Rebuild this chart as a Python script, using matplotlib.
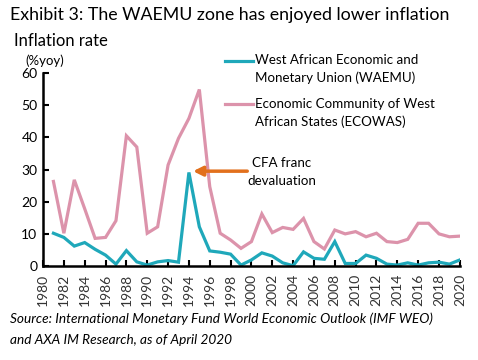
import numpy as np
import matplotlib
matplotlib.use("Agg")
from matplotlib import pyplot as plt
from matplotlib import transforms

# annual inflation, % yoy, 1981-2020
years = list(range(1981, 2021))
waemu = [10.2, 8.9, 6.2, 7.3, 5.2, 3.4, 0.6, 4.8, 1.3, 0.3,
         1.3, 1.7, 1.2, 29.1, 12.2, 4.7, 4.3, 3.7, 0.3, 1.9,
         4.1, 3.1, 1.0, 0.1, 4.4, 2.4, 2.1, 7.6, 0.8, 0.8,
         3.4, 2.4, 0.6, 0.3, 1.0, 0.3, 1.0, 1.2, 0.6, 1.9]
ecowas = [26.3, 10.2, 26.8, 17.8, 8.6, 8.9, 14.1, 40.5, 37.0, 10.2,
          12.2, 31.4, 39.7, 45.9, 54.9, 24.7, 10.2, 8.1, 5.5, 7.6,
          16.2, 10.4, 12.0, 11.4, 14.8, 7.6, 5.3, 11.2, 10.0, 10.7,
          9.1, 10.2, 7.6, 7.3, 8.3, 13.3, 13.3, 10.0, 9.1, 9.3]
xticks = list(range(1980, 2021, 2))
yticks = [0, 10, 20, 30, 40, 50, 60]

teal = "#1FA8BA"
pink = "#DC93AB"
orange = "#E2701C"

plt.rcParams['font.family'] = ['Lato', 'DejaVu Sans']

fig = plt.figure(figsize=(4.78, 3.6), dpi=100)
ax = fig.add_axes([0.09, 0.261, 0.872, 0.536])

ax.plot(years, waemu, color=teal, lw=2.3, solid_joinstyle='miter')
ax.plot(years, ecowas, color=pink, lw=2.3, solid_joinstyle='miter')

ax.set_xlim(1980, 2020)
ax.set_ylim(0, 60)
ax.tick_params(direction='in', length=4, width=1.5, pad=4)
ax.set_xticks(xticks)
ax.set_xticklabels([])
ax.set_yticks(yticks)
ax.set_yticklabels([str(v) for v in yticks], fontsize=10)

# year labels written vertically under the axis
trans = transforms.blended_transform_factory(ax.transData, ax.transAxes)
for y in xticks:
    ax.text(y, -0.04, str(y), transform=trans, rotation=90, ha='center', va='top',
            fontsize=10, color="#333333")

for s in ['top', 'right']:
    ax.spines[s].set_visible(False)
for s in ['left', 'bottom']:
    ax.spines[s].set_linewidth(1.8)

# legend drawn as text next to short lines
fs = 9.6
fig.add_artist(plt.Line2D([225/478, 253/478], [1-61/360, 1-61/360], color=teal, lw=2.3))
fig.text(255/478, 1-60/360, "West African Economic and", fontsize=fs, va='center')
fig.text(255/478, 1-78/360, "Monetary Union (WAEMU)", fontsize=fs, va='center')
fig.add_artist(plt.Line2D([225/478, 253/478], [1-104/360, 1-104/360], color=pink, lw=2.3))
fig.text(255/478, 1-104/360, "Economic Community of West", fontsize=fs, va='center')
fig.text(255/478, 1-122/360, "African States (ECOWAS)", fontsize=fs, va='center')

# devaluation note
ax.annotate("", xy=(1994.4, 29.5), xytext=(1999.6, 29.5),
            arrowprops=dict(arrowstyle='-|>', color=orange, lw=2.5,
                            mutation_scale=14, shrinkA=0, shrinkB=0))
fig.text(252/478, 1-163/360, "CFA franc", fontsize=fs, va='center')
fig.text(247/478, 1-181/360, "devaluation", fontsize=fs, va='center')

fig.text(10/478, 1-15/360, "Exhibit 3: The WAEMU zone has enjoyed lower inflation",
         fontsize=12.8, va='center')
fig.text(14/478, 1-41/360, "Inflation rate", fontsize=12, va='center')
fig.text(25/478, 1-61/360, "(%yoy)", fontsize=9.5, va='center')

fig.text(10/478, 1-319/360,
         "Source: International Monetary Fund World Economic Outlook (IMF WEO)",
         fontsize=9.8, style='italic', va='center')
fig.text(10/478, 1-340/360, "and AXA IM Research, as of April 2020",
         fontsize=9.8, style='italic', va='center')

fig.savefig("out.png", dpi=100)
